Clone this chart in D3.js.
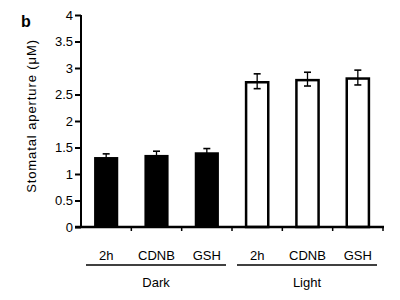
<!DOCTYPE html>
<html>
<head>
<meta charset="utf-8">
<script src="https://cdn.jsdelivr.net/npm/d3@7"></script>
<style>
  body { margin: 0; background: #fff; }
  text { font-family: "Liberation Sans", Arial, sans-serif; fill: #000; }
</style>
</head>
<body>
<div id="container"></div>
<script>
var WIDTH = 400,
	HEIGHT = 300,
	LEFT = 81,
	RIGHT = 383,
	TOP = 15,
	BOTTOM = 227;

var categories = ['2h', 'CDNB', 'GSH', '2h ', 'CDNB ', 'GSH '];
var groups = ['Dark', 'Dark', 'Dark', 'Light', 'Light', 'Light'];
var values = [1.32, 1.36, 1.41, 2.75, 2.79, 2.82];
var errors = [0.06, 0.07, 0.07, 0.14, 0.13, 0.14];
var yTicks = [0, 0.5, 1, 1.5, 2, 2.5, 3, 3.5, 4];

var xScale = d3.scaleBand().domain(categories).range([LEFT, RIGHT]).paddingInner(0.52).paddingOuter(0.26);
var bandScale = d3.scaleBand().domain(categories).range([LEFT, RIGHT]);
var yScale = d3.scaleLinear().domain([0, 4]).range([BOTTOM, TOP]);

var translate = function (x, y) {
	return "translate(" + x + "," + y + ")";
};

var svg = d3.select('#container').append('svg')
	.attr('width', WIDTH)
	.attr('height', HEIGHT);

// bars
svg.selectAll('rect.bar').data(values).enter()
	.append('rect')
	.classed('bar', true)
	.attr('x', function (d, i) { return xScale(categories[i]) + (groups[i] === 'Light' ? 1 : 0); })
	.attr('y', function (d, i) { return yScale(d) + (groups[i] === 'Light' ? 1 : 0); })
	.attr('width', function (d, i) { return xScale.bandwidth() - (groups[i] === 'Light' ? 2 : 0); })
	.attr('height', function (d, i) { return BOTTOM - yScale(d) - (groups[i] === 'Light' ? 1 : 0); })
	.attr('fill', function (d, i) { return groups[i] === 'Dark' ? '#000' : '#fff'; })
	.attr('stroke', '#000')
	.attr('stroke-width', function (d, i) { return groups[i] === 'Dark' ? 0 : 2.5; });

// error bars
var eb = svg.selectAll('g.err').data(values).enter()
	.append('g')
	.classed('err', true)
	.attr('transform', function (d, i) { return translate(xScale(categories[i]) + xScale.bandwidth() / 2, 0); });
eb.append('line')
	.attr('x1', 0).attr('x2', 0)
	.attr('y1', function (d, i) { return yScale(d - errors[i]); })
	.attr('y2', function (d, i) { return yScale(d + errors[i]); })
	.attr('stroke', '#000').attr('stroke-width', 1.3);
eb.append('line')
	.attr('x1', -3.5).attr('x2', 3.5)
	.attr('y1', function (d, i) { return yScale(d + errors[i]); })
	.attr('y2', function (d, i) { return yScale(d + errors[i]); })
	.attr('stroke', '#000').attr('stroke-width', 1.6);
eb.append('line')
	.attr('x1', -3.5).attr('x2', 3.5)
	.attr('y1', function (d, i) { return yScale(d - errors[i]); })
	.attr('y2', function (d, i) { return yScale(d - errors[i]); })
	.attr('stroke', '#000').attr('stroke-width', 1.6);

// y axis
var yAxis = d3.axisLeft(yScale).tickValues(yTicks).tickSize(6).tickPadding(2)
	.tickFormat(function (d) { return String(d); });
var gy = svg.append('g').attr('transform', translate(LEFT, 0)).call(yAxis);
gy.select('.domain').attr('d', 'M0,' + TOP + 'V' + BOTTOM).attr('stroke-width', 2);
gy.selectAll('.tick line').attr('stroke-width', 2);
gy.selectAll('.tick text').attr('font-size', 13).attr('font-family', '"Liberation Sans", Arial, sans-serif');

// x axis line with boundary ticks
svg.append('line')
	.attr('x1', LEFT - 6).attr('x2', RIGHT + 1)
	.attr('y1', BOTTOM).attr('y2', BOTTOM)
	.attr('stroke', '#000').attr('stroke-width', 2.5);
svg.selectAll('line.xtick').data(categories).enter()
	.append('line')
	.classed('xtick', true)
	.attr('x1', function (d) { return bandScale(d) + bandScale.bandwidth(); })
	.attr('x2', function (d) { return bandScale(d) + bandScale.bandwidth(); })
	.attr('y1', BOTTOM).attr('y2', BOTTOM + 4)
	.attr('stroke', '#000').attr('stroke-width', 1.5);

// category labels
svg.selectAll('text.cat').data(categories).enter()
	.append('text')
	.classed('cat', true)
	.attr('x', function (d) { return bandScale(d) + bandScale.bandwidth() / 2; })
	.attr('y', 260)
	.attr('text-anchor', 'middle')
	.attr('font-size', 13)
	.text(function (d) { return d.trim(); });

// group lines and labels
var groupNames = ['Dark', 'Light'];
groupNames.forEach(function (g) {
	var idx = [];
	groups.forEach(function (v, i) { if (v === g) idx.push(i); });
	var x0 = bandScale(categories[idx[0]]) + 5;
	var x1 = bandScale(categories[idx[idx.length - 1]]) + bandScale.bandwidth() - 6;
	svg.append('line')
		.attr('x1', x0).attr('x2', x1)
		.attr('y1', 265).attr('y2', 265)
		.attr('stroke', '#000').attr('stroke-width', 1.6);
	svg.append('text')
		.attr('x', (x0 + x1) / 2)
		.attr('y', 287)
		.attr('text-anchor', 'middle')
		.attr('font-size', 13)
		.text(g);
});

// y title
svg.append('text')
	.attr('transform', translate(36, 116) + ' rotate(-90)')
	.attr('text-anchor', 'middle')
	.attr('font-size', 13)
	.attr('letter-spacing', 0.9)
	.text('Stomatal aperture (\u03BCM)');

// panel letter
svg.append('text')
	.attr('x', 21)
	.attr('y', 27)
	.attr('font-size', 16)
	.attr('font-weight', 'bold')
	.text('b');
</script>
</body>
</html>
